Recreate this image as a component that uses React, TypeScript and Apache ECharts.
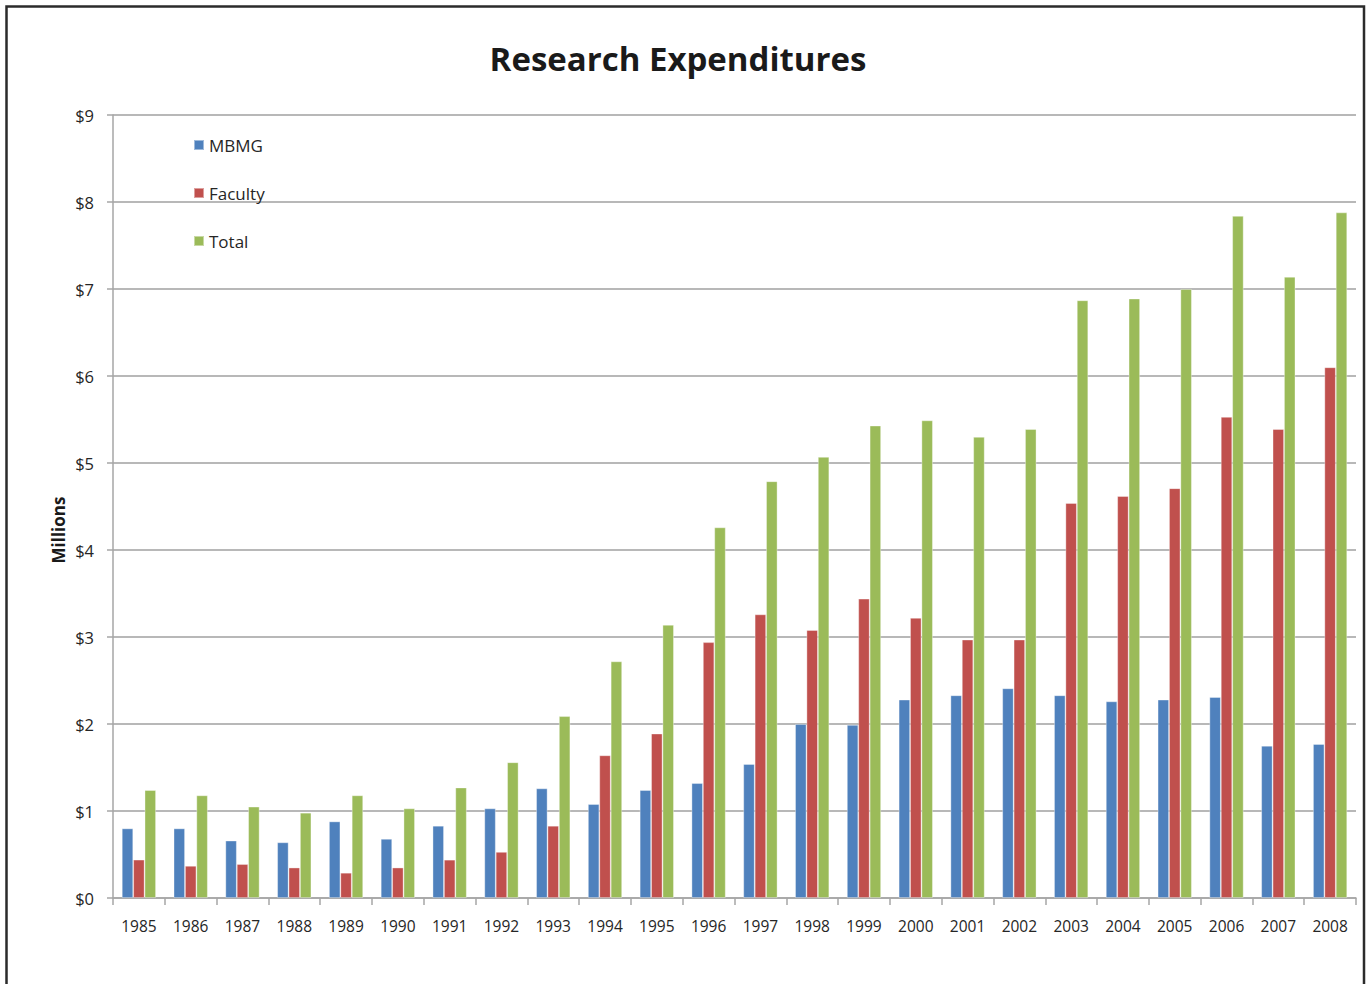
import React, { useEffect, useRef } from "react";
import * as echarts from "echarts";

const years = [
  "1985", "1986", "1987", "1988", "1989", "1990", "1991", "1992", "1993", "1994", "1995", "1996",
  "1997", "1998", "1999", "2000", "2001", "2002", "2003", "2004", "2005", "2006", "2007", "2008",
];
const mbmg = [
  0.8, 0.8, 0.66, 0.64, 0.88, 0.68, 0.83, 1.03, 1.26, 1.08, 1.24, 1.32,
  1.54, 2.0, 1.99, 2.28, 2.33, 2.41, 2.33, 2.26, 2.28, 2.31, 1.75, 1.77,
];
const faculty = [
  0.44, 0.37, 0.39, 0.35, 0.29, 0.35, 0.44, 0.53, 0.83, 1.64, 1.89, 2.94,
  3.26, 3.08, 3.44, 3.22, 2.97, 2.97, 4.54, 4.62, 4.71, 5.53, 5.39, 6.1,
];
const total = [
  1.24, 1.18, 1.05, 0.98, 1.18, 1.03, 1.27, 1.56, 2.09, 2.72, 3.14, 4.26,
  4.79, 5.07, 5.43, 5.49, 5.3, 5.39, 6.87, 6.89, 7.0, 7.84, 7.14, 7.88,
];
const seriesNames = ["MBMG", "Faculty", "Total"];
const colors = ["#4F81BD", "#C0504D", "#9BBB59"];

const FONT = "'Open Sans', sans-serif";

export default function App() {
  const ref = useRef<HTMLDivElement>(null);
  useEffect(() => {
    if (!ref.current) return;
    const chart = echarts.init(ref.current, undefined, { renderer: "svg" });
    const data = [mbmg, faculty, total];
    chart.setOption({
      animation: false,
      backgroundColor: "#ffffff",
      title: {
        text: "Research Expenditures",
        left: 673,
        textAlign: "center",
        top: 37,
        textStyle: { fontFamily: FONT, fontWeight: "bold", fontSize: 33, color: "#1a1a1a" },
      },
      legend: {
        orient: "vertical",
        left: 188,
        top: 130,
        itemWidth: 10,
        itemHeight: 10,
        itemGap: 28,
        icon: "rect",
        data: seriesNames,
        textStyle: { fontFamily: FONT, fontSize: 17, color: "#262626", lineHeight: 20, padding: [0, 0, 0, 0] },
      },
      grid: { left: 113, right: 14, top: 115, bottom: 86, containLabel: false },
      xAxis: {
        type: "category",
        data: years,
        axisLine: { lineStyle: { color: "#A6A6A6", width: 1.5 } },
        axisTick: { show: true, length: 7, lineStyle: { color: "#A6A6A6", width: 1.5 } },
        axisLabel: { fontFamily: FONT, fontSize: 15.5, color: "#262626", margin: 20 },
      },
      yAxis: {
        type: "value",
        min: 0,
        max: 9,
        interval: 1,
        axisLine: { show: true, lineStyle: { color: "#A6A6A6", width: 1.5 } },
        axisTick: { show: true, length: 6, lineStyle: { color: "#A6A6A6", width: 1.5 } },
        splitLine: { lineStyle: { color: "#A0A0A0", width: 1.5 } },
        axisLabel: {
          fontFamily: FONT,
          fontSize: 16.5,
          color: "#262626",
          margin: 19,
          formatter: (v: number) => "$" + v,
        },
      },
      series: seriesNames.map((name, i) => ({
        name,
        type: "bar",
        data: data[i],
        barGap: "0%",
        barCategoryGap: "34%",
        itemStyle: { color: colors[i], borderColor: "rgba(255,255,255,0.45)", borderWidth: 0.8 },
      })),
      graphic: [
        {
          type: "rect",
          shape: { x: 6.5, y: 6.5, width: 1357.5, height: 1000 },
          style: { fill: "none", stroke: "#2b2b2b", lineWidth: 2.5 },
          silent: true,
        },
        {
          type: "text",
          x: 58,
          y: 530,
          rotation: Math.PI / 2,
          style: {
            text: "Millions",
            fontFamily: FONT,
            fontWeight: "bold",
            fontSize: 17,
            fill: "#1a1a1a",
            align: "center",
            verticalAlign: "middle",
          },
          silent: true,
        },
      ],
    });
    return () => chart.dispose();
  }, []);
  return (
    <div
      ref={ref}
      style={{ position: "fixed", left: 0, top: 0, width: 1370, height: 984 }}
    />
  );
}
